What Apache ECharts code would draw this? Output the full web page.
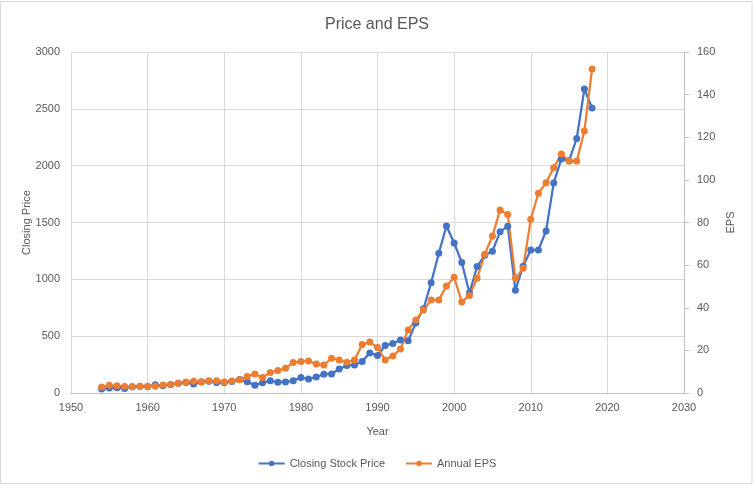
<!DOCTYPE html>
<html>
<head>
<meta charset="utf-8">
<script src="https://cdn.jsdelivr.net/npm/echarts@6/dist/echarts.min.js"></script>
<style>html,body{margin:0;padding:0;background:#fff}#c{width:754px;height:485px}</style>
</head>
<body>
<div id="c"></div>
<script>
var years = [];
for (var y = 1954; y <= 2018; y++) years.push(y);
var closingPrice = [36,45,47,40,55,60,58,72,63,75,
  85,92,80,96,104,92,92,102,118,98,
  69,90,107,95,96,108,136,123,141,165,
  167,211,242,247,278,353,330,417,436,466,
  459,616,741,970,1229,1469,1320,1148,880,1112,
  1212,1248,1418,1468,903,1115,1258,1258,1426,1848,
  2059,2044,2239,2674,2507];
var annualEPS = [2.8,3.6,3.4,3.0,2.9,3.2,3.2,3.2,3.7,4.0,
  4.6,5.2,5.5,5.3,5.7,5.8,5.2,5.6,6.2,7.8,
  8.9,7.3,9.6,10.6,11.6,14.3,14.8,15.0,13.6,13.1,
  16.3,15.5,14.4,15.5,22.8,23.9,21.3,15.5,17.4,20.6,
  29.6,34.3,39.0,43.6,43.6,50.2,54.3,42.7,45.8,53.8,
  65.1,73.7,85.9,83.8,53.8,58.5,81.5,93.7,98.7,105.7,
  112.1,108.8,108.8,122.9,152.0];
var txt = '#595959';
var font = 'Liberation Sans';
function plain(v){ return String(v); }
function pairs(arr){ return years.map(function(y,i){ return [y, arr[i]]; }); }
var chart = echarts.init(document.getElementById('c'), null, {renderer:'canvas'});
chart.setOption({
  animation:false,
  backgroundColor:'#fff',
  textStyle:{fontFamily:font},
  title:{text:'Price and EPS', left:'center', top:12,
    textStyle:{fontFamily:font, fontSize:16, fontWeight:'normal', color:txt}},
  graphic:[{type:'rect', shape:{x:0.5,y:1.5,width:751.5,height:482}, style:{fill:'none', stroke:'#d9d9d9', lineWidth:1}, silent:true}],
  grid:{left:71, right:70, top:52, bottom:92},
  legend:{bottom:11, left:'center', itemWidth:26, itemHeight:7, itemGap:20,
    textStyle:{fontFamily:font, fontSize:11, color:txt},
    data:['Closing Stock Price','Annual EPS']},
  xAxis:{type:'value', min:1950, max:2030, interval:10,
    name:'Year', nameLocation:'middle', nameGap:33,
    nameTextStyle:{fontFamily:font, fontSize:11, color:txt},
    axisLine:{show:true, lineStyle:{color:'#bfbfbf'}},
    axisTick:{show:false},
    axisLabel:{color:txt, fontSize:11, fontFamily:font, margin:9, formatter:plain},
    splitLine:{show:true, lineStyle:{color:'#d9d9d9'}}},
  yAxis:[
    {type:'value', min:0, max:3000, interval:500,
      name:'Closing Price', nameLocation:'middle', nameGap:39, nameRotate:90,
      nameMoveOverlap:false,
      nameTextStyle:{fontFamily:font, fontSize:11, color:txt},
      axisLine:{show:false}, axisTick:{show:false},
      axisLabel:{color:txt, fontSize:11, fontFamily:font, margin:11, formatter:plain},
      splitLine:{show:true, lineStyle:{color:'#d9d9d9'}}},
    {type:'value', min:0, max:160, interval:20, position:'right',
      name:'EPS', nameLocation:'middle', nameGap:41, nameRotate:90,
      nameMoveOverlap:false,
      nameTextStyle:{fontFamily:font, fontSize:11, color:txt},
      axisLine:{show:true, lineStyle:{color:'#bfbfbf'}},
      axisTick:{show:true, length:5, inside:false, lineStyle:{color:'#bfbfbf'}},
      axisLabel:{color:txt, fontSize:11, fontFamily:font, margin:13, formatter:plain},
      splitLine:{show:false}}
  ],
  series:[
    {name:'Closing Stock Price', type:'line', yAxisIndex:0, data:pairs(closingPrice),
      symbol:'circle', symbolSize:7, color:'#4472C4',
      lineStyle:{width:2.25, color:'#4472C4'}, itemStyle:{color:'#4472C4'}},
    {name:'Annual EPS', type:'line', yAxisIndex:1, data:pairs(annualEPS),
      symbol:'circle', symbolSize:7, color:'#ED7D31',
      lineStyle:{width:2.25, color:'#ED7D31'}, itemStyle:{color:'#ED7D31'}}
  ]
});
</script>
</body>
</html>
